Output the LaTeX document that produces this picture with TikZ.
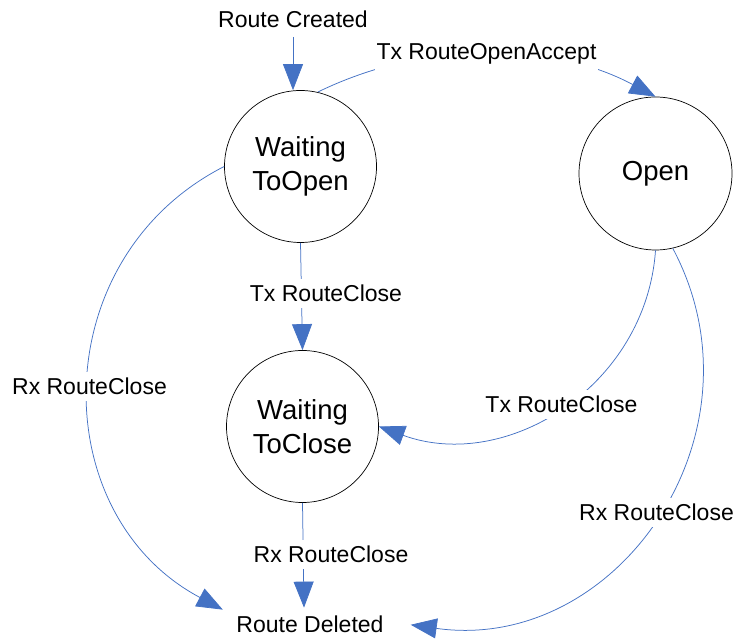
\documentclass[tikz,border=0pt]{standalone}
\usepackage{fontspec}
\setmainfont{Liberation Sans}
\usetikzlibrary{arrows.meta}
\definecolor{edgeblue}{HTML}{4472C4}
\begin{document}
\begin{tikzpicture}[x=1pt,y=1pt,
  state/.style={circle, draw=black, line width=0.7pt, minimum size=152pt, inner sep=0pt,
    align=center, font=\fontsize{27.5}{33.5}\selectfont},
  term/.style={inner xsep=27pt, inner ysep=8.5pt, font=\fontsize{23}{27}\selectfont},
  lbl/.style={fill=white, inner xsep=2pt, inner ysep=6pt, font=\fontsize{23}{27}\selectfont},
  trans/.style={color=edgeblue, line width=0.75pt, -{Triangle[length=26pt,width=20pt]}}]
\useasboundingbox (0,0) rectangle (738,639);
% states
\node[state] (wto) at (300.5,472.5) {Waiting\\ToOpen};
\node[state, minimum size=153pt] (open) at (655.5,465.5) {Open};
\node[state] (wtc) at (302.5,212.5) {Waiting\\ToClose};
\node[term, anchor=base] (rc) at (293,611) {Route Created};
\node[term, anchor=base] (rd) at (310,6) {Route Deleted};
% transitions
\draw[trans] (rc.south) -- (wto.north -| rc.south);
\draw[trans] (wto.77.5) to[out=26,in=152,distance=119pt] (open.north);
\draw[trans] (wto.south) -- (wtc.north);
\draw[trans] (wto.west) to[out=207,in=152,distance=202pt] ([xshift=13.5pt,yshift=-2pt]rd.north west);
\draw[trans] (open.south) to[out=266,in=-20,distance=136pt] (wtc.east);
\draw[trans] (wtc.south) -- ([xshift=-6pt]rd.north);
\draw[trans] (open.283) to[out=-62,in=-8,distance=209pt] (rd.east);
% labels
\node[lbl, anchor=base] (l1) at (486.5,579) {Tx RouteOpenAccept};
\node[lbl, anchor=base] (l2) at (326,337) {Tx RouteClose};
\node[lbl, anchor=base] (l3) at (89.5,244) {Rx RouteClose};
\node[lbl, anchor=base] (l4) at (561.5,226) {Tx RouteClose};
\node[lbl, anchor=base] (l5) at (656.5,118) {Rx RouteClose};
\node[lbl, anchor=base] (l6) at (331,76) {Rx RouteClose};
\end{tikzpicture}
\end{document}
